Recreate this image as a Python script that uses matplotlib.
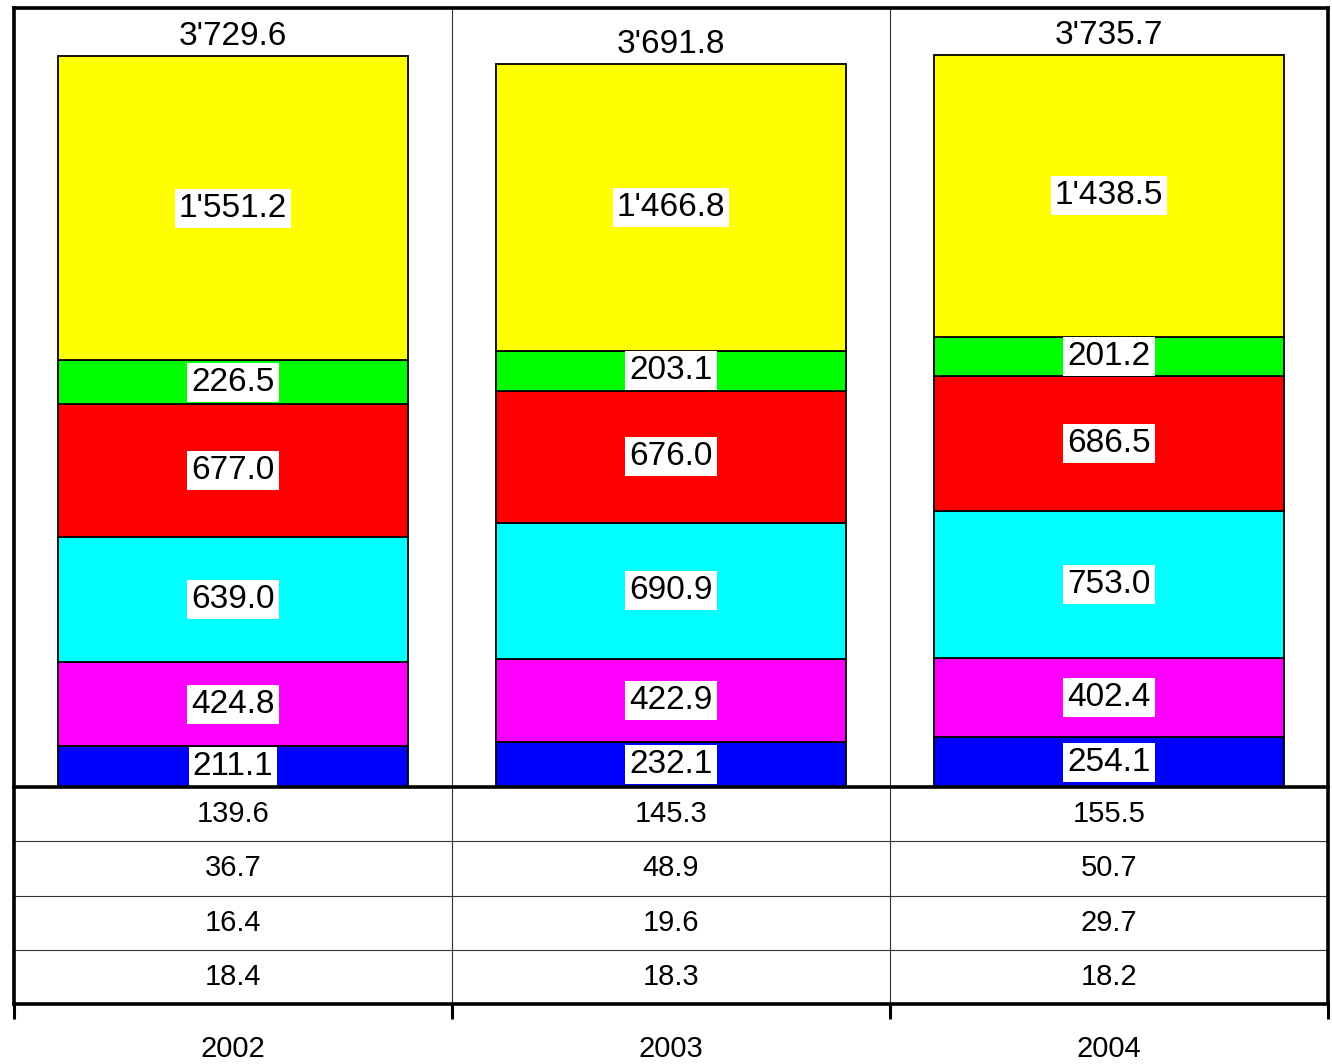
import matplotlib.pyplot as plt

plt.rcParams['font.family'] = ['Liberation Sans', 'DejaVu Sans']

years = ["2002", "2003", "2004"]

# stacked segments, bottom to top
blue = [211.1, 232.1, 254.1]
magenta = [424.8, 422.9, 402.4]
cyan = [639.0, 690.9, 753.0]
red = [677.0, 676.0, 686.5]
green = [226.5, 203.1, 201.2]
yellow = [1551.2, 1466.8, 1438.5]
totals = [3729.6, 3691.8, 3735.7]

# table rows under the bars
row1 = [139.6, 145.3, 155.5]
row2 = [36.7, 48.9, 50.7]
row3 = [16.4, 19.6, 29.7]
row4 = [18.4, 18.3, 18.2]

segments = [blue, magenta, cyan, red, green, yellow]
colors = ["#0000ff", "#ff00ff", "#00ffff", "#ff0000", "#00ff00", "#ffff00"]
rows = [row1, row2, row3, row4]


def fmt(v):
    s = "{:,.1f}".format(v)
    return s.replace(",", "'")


W, H = 1332, 1064
fig = plt.figure(figsize=(W / 100, H / 100), dpi=100)
ax = fig.add_axes([14 / W, 1 - 787 / H, 1314 / W, 779 / H])
tab = fig.add_axes([14 / W, 1 - 1004 / H, 1314 / W, 217 / H])

x = range(len(years))
bottom = [0, 0, 0]
for vals, c in zip(segments, colors):
    ax.bar(x, vals, width=0.797, bottom=bottom, color=c, edgecolor="black",
           linewidth=1.3, zorder=2)
    for i, v in enumerate(vals):
        ax.text(i, bottom[i] + v / 2, fmt(v), ha="center", va="center",
                fontsize=24, zorder=4,
                bbox=dict(boxstyle="square,pad=0.12", fc="white", ec="none"))
    bottom = [b + v for b, v in zip(bottom, vals)]

for i, t in enumerate(totals):
    ax.annotate(fmt(t), (i, t), xytext=(0, 14), textcoords="offset points",
                ha="center", va="center", fontsize=24)

ax.set_xlim(-0.5, 2.5)
ax.set_ylim(0, 3975)
ax.set_xticks([])
ax.set_yticks([])
for sx in [0.5, 1.5]:
    ax.axvline(sx, color="#333333", linewidth=0.8, zorder=1)
for s in ["left", "top", "right"]:
    ax.spines[s].set_linewidth(2.6)
ax.spines["bottom"].set_visible(False)

# table part
tab.set_xlim(-0.5, 2.5)
tab.set_ylim(4, 0)
for r, vals in enumerate(rows):
    for i, v in enumerate(vals):
        tab.text(i, r + 0.5, fmt(v), ha="center", va="center", fontsize=21)
for ry in [1, 2, 3]:
    tab.axhline(ry, color="#333333", linewidth=0.8)
for sx in [0.5, 1.5]:
    tab.axvline(sx, color="#333333", linewidth=0.8)
for s in ["left", "top", "right", "bottom"]:
    tab.spines[s].set_linewidth(2.6)
tab.set_yticks([])
tab.set_xticks([-0.5, 0.5, 1.5, 2.5])
tab.set_xticklabels([])
tab.tick_params(axis="x", which="major", direction="out", length=11, width=2.2)
tab.set_xticks([0, 1, 2], minor=True)
tab.set_xticklabels(years, minor=True)
tab.tick_params(axis="x", which="minor", length=0, pad=22, labelsize=21)

fig.savefig("out.png", dpi=100)
